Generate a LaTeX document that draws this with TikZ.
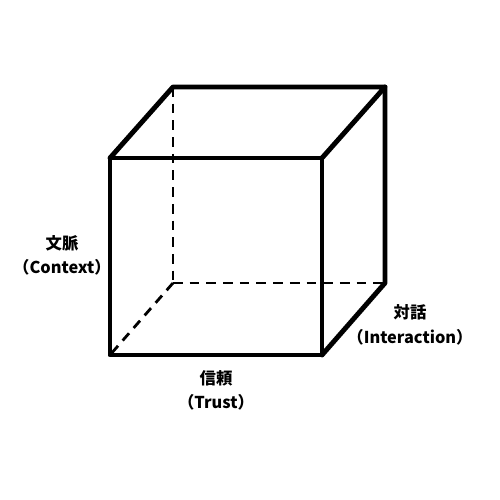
\documentclass[tikz,border=0pt]{standalone}
\usepackage{fontspec}
\newfontfamily\cjk{Noto Sans CJK JP}
\usepackage{tikz}

\begin{document}
\begin{tikzpicture}[
  edge/.style={line width=2.8pt, line join=round, line cap=round},
  hidden/.style={line width=1.6pt, dash pattern=on 5.5pt off 4pt},
  axislabel/.style={align=center, font=\cjk\bfseries\fontsize{9.3}{14}\selectfont}]
\useasboundingbox (0,0) rectangle (10,10);
%\draw[help lines, color=gray!30] (0,0) grid (10,10);

% front face
\coordinate (fbl) at (2.2,2.9);
\coordinate (fbr) at (6.44,2.9);
\coordinate (ftr) at (6.44,6.84);
\coordinate (ftl) at (2.2,6.84);
% back face
\coordinate (bbl) at (3.46,4.34);
\coordinate (bbr) at (7.7,4.34);
\coordinate (btr) at (7.7,8.26);
\coordinate (btl) at (3.46,8.26);

% hidden edges
\draw [hidden] (btl) -- (bbl);
\draw [hidden] (bbl) -- (bbr);
\draw [hidden] (bbl) -- (fbl);

% visible edges
\draw [edge] (fbl) -- (fbr) -- (ftr) -- (ftl) -- cycle;
\draw [edge] (ftl) -- (btl) -- (btr) -- (ftr);
\draw [edge] (btr) -- (bbr) -- (fbr);

\node[axislabel] (context) at (1.24,4.89) {文脈\\（Context）};
\node[axislabel] (interaction) at (8.2,3.5) {対話\\（Interaction）};
\node[axislabel] (trust) at (4.32,2.19) {信頼\\（Trust）};

\end{tikzpicture}
\end{document}
